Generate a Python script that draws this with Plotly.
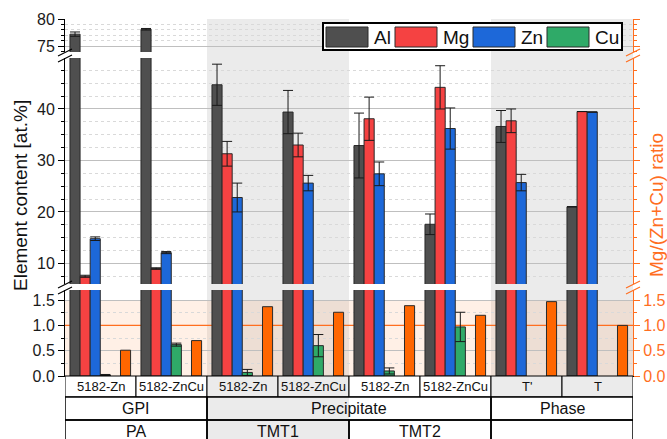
import plotly.graph_objects as go

# ---------------- data ----------------
samples = ["5182-Zn", "5182-ZnCu", "5182-Zn", "5182-ZnCu", "5182-Zn", "5182-ZnCu", "T'", "T"]
cat_ids = ["PA 5182-Zn", "PA 5182-ZnCu", "TMT1 5182-Zn", "TMT1 5182-ZnCu",
           "TMT2 5182-Zn", "TMT2 5182-ZnCu", "Phase T'", "Phase T"]
row2_labels = ["GPI", "Precipitate", "Phase"]
row2_spans = [(0, 1), (2, 5), (6, 7)]
row3_labels = ["PA", "TMT1", "TMT2", ""]
row3_spans = [(0, 1), (2, 3), (4, 5), (6, 7)]
shaded_groups = [(2, 3), (6, 7)]

al = [77.2, 78.1, 44.7, 39.4, 32.9, 17.6, 36.6, 21.0]
al_err = [0.4, 0.15, 4.0, 4.2, 6.3, 2.0, 3.1, 0]
mg = [7.5, 9.0, 31.3, 33.0, 38.1, 44.2, 37.7, 39.5]
mg_err = [0.2, 0.15, 2.4, 2.3, 4.2, 4.2, 2.3, 0]
zn = [14.8, 12.1, 22.8, 25.6, 27.4, 36.2, 25.7, 39.4]
zn_err = [0.35, 0.2, 2.8, 1.5, 2.3, 4.0, 1.6, 0]
cu = [0.02, 0.62, 0.07, 0.60, 0.10, 0.97, None, None]
cu_err = [0.01, 0.03, 0.06, 0.22, 0.06, 0.29, 0, 0]
ratio = [0.51, 0.70, 1.37, 1.26, 1.39, 1.20, 1.47, 1.00]

elements = ["Al", "Mg", "Zn", "Cu"]
colors = {"Al": "#4f4f4f", "Mg": "#f54242", "Zn": "#1d68d9", "Cu": "#2faa68"}
ratio_color = "#ff6600"
axis_orange = "#ff6e1f"

FONT = "Arial, Liberation Sans, sans-serif"

# ---------------- layout geometry (pixels) ----------------
W, H = 667, 439
L, R, T, B = 65, 633, 19, 376


def py(p):
    return (B - p) / (B - T)


def px(p):
    return (p - L) / (R - L)


BW = 0.1423
offsets = {"Al": -0.43, "Mg": -0.43 + BW, "Zn": -0.43 + 2 * BW, "Cu": -0.43 + 3 * BW,
           "ratio": -0.43 + 5 * BW}

fig = go.Figure()

line_style = dict(color="#2a2a2a", width=1)


def err(arr):
    return dict(type="data", array=arr, visible=True, color="#1a1a1a", thickness=1, width=5)


# Al & Mg on the left axes, Zn on the (identical-range) right axes of the top/middle panels
panel_axes = {"Al": ["y", "y2", "y3"], "Mg": ["y", "y2", "y3"], "Zn": ["y4", "y5", "y3"]}
for name, vals, errs in [("Al", al, al_err), ("Mg", mg, mg_err), ("Zn", zn, zn_err)]:
    for ax in panel_axes[name]:
        fig.add_trace(go.Bar(x=cat_ids, y=vals, yaxis=ax, name=name, offset=offsets[name], width=BW,
                             marker=dict(color=colors[name], line=line_style),
                             error_y=err(errs), showlegend=False))

fig.add_trace(go.Bar(x=cat_ids, y=cu, yaxis="y3", name="Cu", offset=offsets["Cu"], width=BW,
                     marker=dict(color=colors["Cu"], line=line_style),
                     error_y=err(cu_err), showlegend=False))
fig.add_trace(go.Bar(x=cat_ids, y=ratio, yaxis="y6", name="Mg/(Zn+Cu)", offset=offsets["ratio"], width=BW,
                     marker=dict(color=ratio_color, line=line_style), showlegend=False))

# ---------------- axes ----------------
tickfont = dict(family=FONT, size=16, color="#1a1a1a")
d_top = [py(52), 1.0]
d_mid = [py(284), py(58)]
d_bot = [0.0, py(290)]


def left_axis(domain, rng, dtick, mdtick, fmt=None):
    a = dict(domain=domain, range=rng, tickmode="linear", tick0=0, dtick=dtick, automargin=False,
             showline=True, linecolor="black", linewidth=1, ticks="outside", ticklen=6,
             tickcolor="black", tickfont=tickfont, showgrid=True, gridcolor="#bfbfbf",
             gridwidth=1, zeroline=False, anchor="x",
             minor=dict(tickmode="linear", tick0=0, dtick=mdtick, ticks="outside", ticklen=3,
                        tickcolor="black", showgrid=True, gridcolor="#d9d9d9", griddash="dot"))
    if fmt:
        a["tickformat"] = fmt
    return a


def right_axis(over, rng, dtick, mdtick, labels, fmt=None):
    a = dict(overlaying=over, side="right", range=rng, tickmode="linear", tick0=0, dtick=dtick,
             automargin=False,
             showline=True, linecolor=axis_orange, linewidth=1, ticks="outside", ticklen=6,
             tickcolor=axis_orange, showticklabels=labels,
             tickfont=dict(family=FONT, size=16, color=axis_orange),
             showgrid=False, zeroline=False, anchor="x",
             minor=dict(tickmode="linear", tick0=0, dtick=mdtick, ticks="outside", ticklen=3,
                        tickcolor=axis_orange, showgrid=False))
    if fmt:
        a["tickformat"] = fmt
    return a


r_top, r_mid, r_bot = [73.9, 80.0], [6, 49.9], [0, 1.7]

fig.update_layout(
    width=W, height=H, autosize=False,
    margin=dict(l=L, r=W - R, t=T, b=H - B, pad=0, autoexpand=False),
    paper_bgcolor="white", plot_bgcolor="rgba(0,0,0,0)",
    barmode="overlay", showlegend=False,
    font=dict(family=FONT),
    xaxis=dict(type="category", range=[-0.5, 7.5], showticklabels=False, ticks="", automargin=False,
               showline=True, linecolor="black", linewidth=1, showgrid=False, zeroline=False,
               anchor="y3"),
    yaxis=left_axis(d_top, r_top, 5, 1),
    yaxis2=left_axis(d_mid, r_mid, 10, 2.5),
    yaxis3=left_axis(d_bot, r_bot, 0.5, 0.25, ".1f"),
    yaxis4=right_axis("y", r_top, 5, 1, False),
    yaxis5=right_axis("y2", r_mid, 10, 2.5, False),
    yaxis6=right_axis("y3", r_bot, 0.5, 0.25, True, ".1f"),
)

shapes = []
# shaded columns
for g0, g1 in shaded_groups:
    shapes.append(dict(type="rect", xref="x", yref="paper", x0=g0 - 0.5, x1=g1 + 0.5, y0=0, y1=1,
                       fillcolor="#ebebeb", line=dict(width=0), layer="below"))
# orange band in ratio panel
shapes.append(dict(type="rect", xref="paper", yref="y3", x0=0, x1=1, y0=0, y1=1.5,
                   fillcolor="rgba(255,140,60,0.13)", line=dict(width=0), layer="below"))
# ratio = 1 reference line
shapes.append(dict(type="line", xref="x", yref="y3", x0=-0.5, x1=7.5, y0=1.0, y1=1.0,
                   line=dict(color=axis_orange, width=1.2), layer="between"))

# ---------------- category table ----------------
r1 = (py(376), py(397))
r2 = (py(397), py(420))
r3 = (py(420), py(445))
gray = "#ebebeb"
for i in range(len(samples)):
    shaded = any(g0 <= i <= g1 for g0, g1 in shaded_groups)
    shapes.append(dict(type="rect", xref="x", yref="paper", x0=i - 0.5, x1=i + 0.5, y0=r1[1], y1=r1[0],
                       fillcolor=gray if shaded else "white", line=dict(color="black", width=1),
                       layer="above"))
for (g0, g1) in row2_spans:
    shapes.append(dict(type="rect", xref="x", yref="paper", x0=g0 - 0.5, x1=g1 + 0.5, y0=r2[1], y1=r2[0],
                       fillcolor="white", line=dict(width=0), layer="above"))
for (g0, g1) in row3_spans:
    shapes.append(dict(type="rect", xref="x", yref="paper", x0=g0 - 0.5, x1=g1 + 0.5, y0=r3[1], y1=r3[0],
                       fillcolor="white", line=dict(width=0), layer="above"))
g0, g1 = shaded_groups[0]
shapes.append(dict(type="rect", xref="x", yref="paper", x0=g0 - 0.5, x1=g1 + 0.5, y0=r3[1], y1=r2[0],
                   fillcolor=gray, line=dict(width=0), layer="above"))
for (g0, g1) in row2_spans:
    shapes.append(dict(type="rect", xref="x", yref="paper", x0=g0 - 0.5, x1=g1 + 0.5, y0=r2[1], y1=r2[0],
                       fillcolor="rgba(0,0,0,0)", line=dict(color="black", width=1.5), layer="above"))
for (g0, g1) in row3_spans:
    shapes.append(dict(type="rect", xref="x", yref="paper", x0=g0 - 0.5, x1=g1 + 0.5, y0=r3[1], y1=r3[0],
                       fillcolor="rgba(0,0,0,0)", line=dict(color="black", width=1.5), layer="above"))

annotations = []
for i, s in enumerate(samples):
    annotations.append(dict(x=i, y=(r1[0] + r1[1]) / 2, xref="x", yref="paper", text=s, showarrow=False,
                            font=dict(family=FONT, size=13, color="#111"), xanchor="center", yanchor="middle"))
for lab, (g0, g1) in zip(row2_labels, row2_spans):
    annotations.append(dict(x=(g0 + g1) / 2, y=(r2[0] + r2[1]) / 2, xref="x", yref="paper", text=lab,
                            showarrow=False, font=dict(family=FONT, size=16, color="#111"),
                            xanchor="center", yanchor="middle"))
for lab, (g0, g1) in zip(row3_labels, row3_spans):
    if lab:
        annotations.append(dict(x=(g0 + g1) / 2, y=py(432), xref="x", yref="paper", text=lab,
                                showarrow=False, font=dict(family=FONT, size=16, color="#111"),
                                xanchor="center", yanchor="middle"))

# ---------------- axis titles ----------------
annotations.append(dict(x=px(20), y=py(196), xref="paper", yref="paper", text="Element content [at.%]",
                        textangle=-90, showarrow=False, font=dict(family=FONT, size=19, color="#111"),
                        xanchor="center", yanchor="middle"))
annotations.append(dict(x=px(657), y=py(205), xref="paper", yref="paper", text="Mg/(Zn+Cu) ratio",
                        textangle=-90, showarrow=False, font=dict(family=FONT, size=19, color=axis_orange),
                        xanchor="center", yanchor="middle"))

# ---------------- legend (custom, large swatches) ----------------
shapes.append(dict(type="rect", xref="paper", yref="paper", x0=px(323), x1=px(622), y0=py(50), y1=py(23),
                   fillcolor="white", line=dict(color="black", width=2), layer="above"))
sw_x = [326, 395, 473, 547]
for el, x0 in zip(elements, sw_x):
    shapes.append(dict(type="rect", xref="paper", yref="paper", x0=px(x0), x1=px(x0 + 42),
                       y0=py(47), y1=py(27), fillcolor=colors[el], line=dict(color="#2a2a2a", width=1),
                       layer="above"))
    annotations.append(dict(x=px(x0 + 46), y=py(37.5), xref="paper", yref="paper", text=el, showarrow=False,
                            font=dict(family=FONT, size=19, color="#111"), xanchor="left", yanchor="middle"))

# ---------------- axis break marks ----------------
for xc, col in [(L, "black"), (R, axis_orange)]:
    for (ya, yb) in [(56, 49), (62, 55), (288, 281), (294, 287)]:
        shapes.append(dict(type="line", xref="paper", yref="paper", x0=px(xc - 7), x1=px(xc + 7),
                           y0=py(ya), y1=py(yb), line=dict(color=col, width=1.2), layer="above"))

fig.update_layout(shapes=shapes, annotations=annotations)
fig.write_html("out.html")
